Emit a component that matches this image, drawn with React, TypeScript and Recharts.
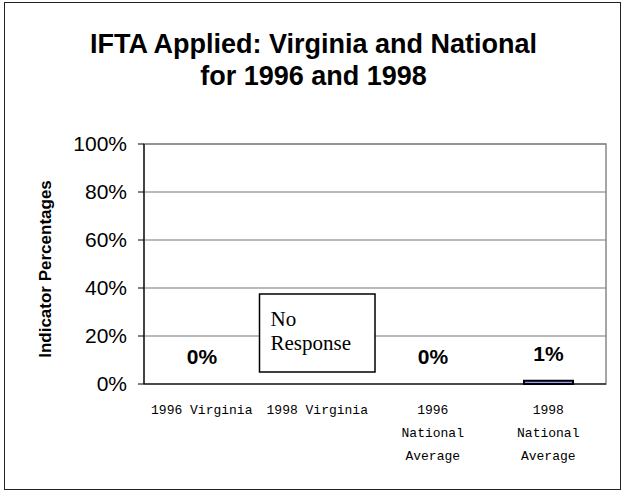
import React from 'react';
import { BarChart, Bar, XAxis, YAxis, CartesianGrid, ReferenceArea, LabelList, Cell } from 'recharts';

const categories = ['1996 Virginia', '1998 Virginia', '1996\nNational\nAverage', '1998\nNational\nAverage'];
const values: (number | null)[] = [0, null, 0, 1.4];
const yTicks = [0, 20, 40, 60, 80, 100];
const edgeTicks = [0, 1, 2, 3, 4];
const titleLines = ['IFTA Applied: Virginia and National', 'for 1996 and 1998'];
const noResponseLines = ['No', 'Response'];

const data = categories.map((name, i) => ({ name, value: values[i] }));

// etiquetas do eixo X em varias linhas, fonte mono
const CategoryTick = ({ x, y, payload }: any) => {
  const lines = String(payload.value).split('\n');
  return (
    <g>
      {lines.map((line, i) => (
        <text
          key={i}
          x={x}
          y={y + 30 + i * 23}
          textAnchor="middle"
          fill="#000"
          style={{ fontFamily: '"Liberation Mono", monospace', fontSize: 13 }}
        >
          {line}
        </text>
      ))}
    </g>
  );
};

const ValueLabel = ({ x, y, width, height, value }: any) => {
  if (value === null || value === undefined) return null;
  // barras de 0% ficam com 1px minimo (invisivel), topo = base do eixo
  const top = value === 0 ? y + height : y;
  return (
    <text
      x={x + width / 2}
      y={top - 20}
      textAnchor="middle"
      fill="#000"
      style={{ fontFamily: '"Liberation Sans", Arial, sans-serif', fontSize: 21, fontWeight: 'bold' }}
    >
      {`${Math.round(value)}%`}
    </text>
  );
};

const NoResponseLabel = ({ viewBox }: any) => {
  if (!viewBox) return null;
  return (
    <g>
      {noResponseLines.map((line, i) => (
        <text
          key={i}
          x={viewBox.x + 11}
          y={viewBox.y + 32 + i * 24}
          fill="#000"
          style={{ fontFamily: '"Liberation Serif", "Times New Roman", serif', fontSize: 21 }}
        >
          {line}
        </text>
      ))}
    </g>
  );
};

const AxisTitle = ({ viewBox }: any) => {
  if (!viewBox) return null;
  const cx = viewBox.x + 41;
  const cy = viewBox.y + viewBox.height / 2 + 5;
  return (
    <text
      x={cx}
      y={cy}
      transform={`rotate(-90, ${cx}, ${cy})`}
      textAnchor="middle"
      dominantBaseline="central"
      fill="#000"
      style={{ fontFamily: '"Liberation Sans", Arial, sans-serif', fontSize: 17, fontWeight: 'bold' }}
    >
      Indicator Percentages
    </text>
  );
};

const App = () => {
  return (
    <div style={{ position: 'absolute', left: 0, top: 0, width: 621, height: 498, background: '#fff' }}>
      <div
        style={{
          position: 'absolute',
          left: 4,
          top: 2,
          width: 617,
          height: 488,
          border: '1.5px solid #222',
          boxSizing: 'border-box',
        }}
      />
      <div
        style={{
          position: 'absolute',
          left: 3,
          top: 28,
          width: 621,
          textAlign: 'center',
          fontFamily: '"Liberation Sans", Arial, sans-serif',
          fontWeight: 'bold',
          fontSize: 27,
          lineHeight: '32px',
          color: '#000',
        }}
      >
        {titleLines.map((t) => (
          <div key={t}>{t}</div>
        ))}
      </div>
      <div style={{ position: 'absolute', left: 0, top: 0 }}>
        <BarChart
          width={621}
          height={498}
          data={data}
          margin={{ top: 144, right: 15, bottom: 14, left: 4 }}
          barCategoryGap="29%"
        >
          <CartesianGrid xAxisId="cat" vertical={false} stroke="#777" strokeWidth={1.2} />
          <ReferenceArea xAxisId="cat" y1={0} y2={100} fill="none" stroke="#888" strokeWidth={1.5} ifOverflow="visible" />
          <XAxis
            xAxisId="edges"
            type="number"
            domain={[0, 4]}
            ticks={edgeTicks}
            allowDataOverflow
            height={0}
            axisLine={false}
            tickLine={{ stroke: '#000' }}
            tickSize={5}
            tickFormatter={() => ''}
          />
          <XAxis
            xAxisId="cat"
            dataKey="name"
            height={100}
            axisLine={{ stroke: '#000', strokeWidth: 1.2 }}
            tickLine={false}
            tickSize={0}
            tickMargin={0}
            interval={0}
            tick={<CategoryTick />}
          />
          <YAxis
            domain={[0, 100]}
            ticks={yTicks}
            width={140}
            axisLine={{ stroke: '#000', strokeWidth: 1.2 }}
            tickLine={{ stroke: '#000' }}
            tickSize={6}
            tickMargin={11}
            tickFormatter={(v) => `${v}%`}
            tick={{ fill: '#000', fontSize: 21, fontFamily: '"Liberation Sans", Arial, sans-serif' }}
            label={<AxisTitle />}
          />
          <Bar
            xAxisId="cat"
            dataKey="value"
            fill="#9999ff"
            stroke="#000"
            strokeWidth={2}
            minPointSize={1}
            isAnimationActive={false}
          >
            {data.map((d, i) => (
              <Cell
                key={i}
                fill={d.value ? '#9999ff' : 'none'}
                stroke={d.value ? '#000' : 'none'}
              />
            ))}
            <LabelList dataKey="value" content={<ValueLabel />} />
          </Bar>
          <ReferenceArea
            xAxisId="cat"
            x1="1998 Virginia"
            x2="1998 Virginia"
            y1={5}
            y2={37.5}
            fill="#fff"
            fillOpacity={1}
            stroke="#000"
            strokeWidth={1.5}
            label={<NoResponseLabel />}
          />
        </BarChart>
      </div>
    </div>
  );
};

export default App;
